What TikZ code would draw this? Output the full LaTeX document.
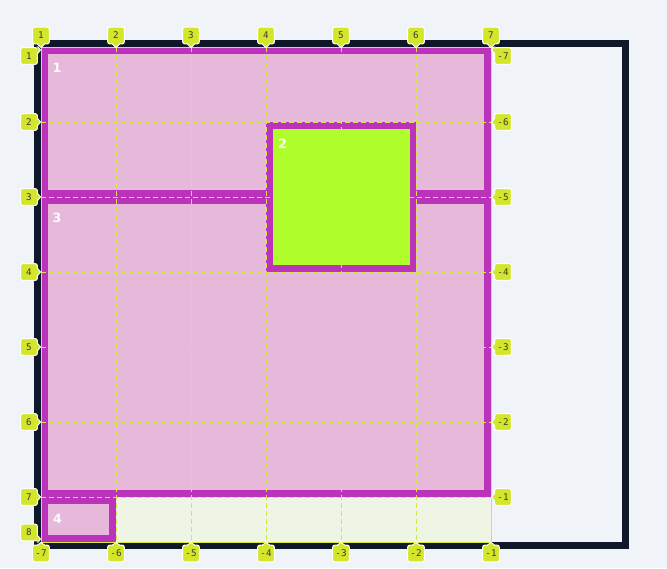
\documentclass[tikz,border=0pt]{standalone}
\usepackage{fontspec}
\setmainfont{DejaVu Sans}
\newfontfamily\monof{DejaVu Sans Mono}
\definecolor{bgc}{HTML}{F0F4F9}
\definecolor{darkc}{HTML}{0F172A}
\definecolor{magc}{HTML}{BB33BB}
\definecolor{pinkc}{HTML}{E6B8DA}
\definecolor{greenc}{HTML}{B0FF2C}
\definecolor{gridfill}{HTML}{EEF5E4}
\definecolor{labyel}{HTML}{D4E62C}
\definecolor{labtxt}{HTML}{3A3A30}
\definecolor{linec}{HTML}{D6E83A}
\begin{document}
\begin{tikzpicture}[x=0.75pt,y=-0.75pt,
  lab/.style={fill=labyel, draw=white, line width=0.75pt, rounded corners=1.5pt,
    minimum width=12.5pt, minimum height=12.5pt, inner sep=0pt,
    font=\monof\fontsize{6.9}{7.5}\selectfont, text=labtxt},
  itemlab/.style={font=\bfseries\fontsize{9.5}{11}\selectfont, text=white!95!pinkc, inner sep=0pt},
  gline/.style={linec, line width=0.75pt, dash pattern=on 3.75pt off 2.25pt},
  ptr/.style={fill=labyel},
  ptredge/.style={draw=white, line width=0.75pt}]
\useasboundingbox (0,0) rectangle (667,568);
\fill[bgc] (0,0) rectangle (667,568);
% container
\fill[darkc] (34,40) rectangle (629,549);
\fill[bgc] (41,47) rectangle (622,542);
% grid area
\fill[gridfill] (41,47) rectangle (491,542);
% item 1
\fill[magc] (41,47) rectangle (491,197);
\fill[pinkc] (48,54) rectangle (484,190);
\node[itemlab] (i1) at (57,68) {1};
% item 3
\fill[magc] (41,197) rectangle (491,497);
\fill[pinkc] (48,204) rectangle (484,490);
\node[itemlab] (i3) at (57,218) {3};
% item 4
\fill[magc] (41,497) rectangle (116,542);
\fill[pinkc] (48,504) rectangle (109,535);
\node[itemlab] (i4) at (57.5,518.5) {4};
% item 2
\fill[magc] (266,122) rectangle (416,272);
\fill[greenc] (272.5,128.5) rectangle (409.5,265);
\node[itemlab] (i2) at (282.5,144) {2};
% grid lines
\foreach \x in {116,191,266,341,416} \draw[gline] (\x,47) -- (\x,542);
\foreach \y in {122,197,272,347,422,497} \draw[gline] (41,\y) -- (491,\y);
\draw[linec, line width=0.75pt] (41,47) rectangle (491,542);
% top labels
\foreach \i/\x in {1/41,2/116,3/191,4/266,5/341,6/416,7/491}{
  \node[lab] (t\i) at (\x,35.5) {\i};
  \fill[ptr] (\x-3.5,43) -- (\x,47.5) -- (\x+3.5,43) -- cycle;
  \draw[ptredge] (\x-3.5,44.2) -- (\x,47.5) -- (\x+3.5,44.2);
}
% bottom labels
\foreach \i/\x in {7/41,6/116,5/191,4/266,3/341,2/416,1/491}{
  \node[lab] (b\i) at (\x,553.5) {-\i};
  \fill[ptr] (\x-3.5,546) -- (\x,542.5) -- (\x+3.5,546) -- cycle;
  \draw[ptredge] (\x-3.5,545) -- (\x,542.5) -- (\x+3.5,545);
}
% left labels
\foreach \i/\y/\p in {1/56/50,2/122/122,3/197/197,4/272/272,5/347/347,6/422/422,7/497/497,8/532.5/539}{
  \node[lab] (l\i) at (29,\y) {\i};
  \fill[ptr] (36.5,\p-3.5) -- (40.5,\p) -- (36.5,\p+3.5) -- cycle;
  \draw[ptredge] (37.6,\p-3.5) -- (40.5,\p) -- (37.6,\p+3.5);
}
% right labels
\foreach \i/\y/\p in {7/56/50,6/122/122,5/197/197,4/272/272,3/347/347,2/422/422,1/497/497}{
  \node[lab] (r\i) at (503,\y) {-\i};
  \fill[ptr] (495.5,\p-3.5) -- (491.5,\p) -- (495.5,\p+3.5) -- cycle;
  \draw[ptredge] (494.4,\p-3.5) -- (491.5,\p) -- (494.4,\p+3.5);
}
\end{tikzpicture}
\end{document}
